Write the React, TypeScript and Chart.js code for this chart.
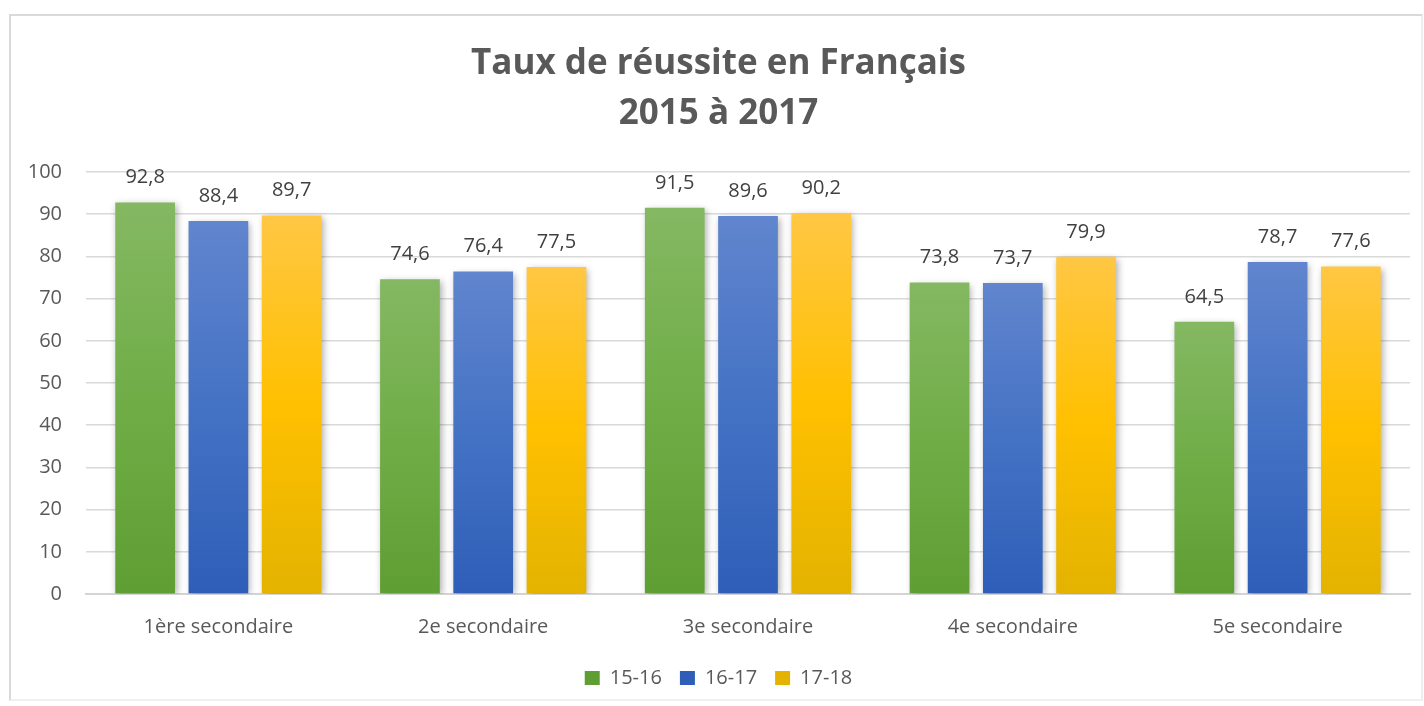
import React, { useEffect, useRef } from 'react';
import { Chart, registerables } from 'chart.js';

Chart.register(...registerables);

const categories = ['1ère secondaire', '2e secondaire', '3e secondaire', '4e secondaire', '5e secondaire'];
const seriesNames = ['15-16', '16-17', '17-18'];
const values1516 = [92.8, 74.6, 91.5, 73.8, 64.5];
const values1617 = [88.4, 76.4, 89.6, 73.7, 78.7];
const values1718 = [89.7, 77.5, 90.2, 79.9, 77.6];
const titleLines = ['Taux de réussite en Français', '2015 à 2017'];
const yMin = 0;
const yMax = 100;
const yStep = 10;

const FONT = '"Open Sans", "Noto Sans", sans-serif';
const greenStops = ['#84b862', '#70ad47', '#5f9e33'];
const blueStops = ['#6185ce', '#4472c4', '#2e5eb8'];
const yellowStops = ['#ffc744', '#ffc000', '#e3b300'];

function barGradient(stops: string[]) {
  return (c: any) => {
    const chart = c.chart;
    const area = chart.chartArea;
    if (!area || c.type !== 'data') return stops[1];
    const ys = chart.scales.y;
    const v = c.parsed && c.parsed.y != null ? c.parsed.y : c.raw;
    const top = ys.getPixelForValue(v);
    const bottom = ys.getPixelForValue(0);
    if (!isFinite(top) || !isFinite(bottom) || top === bottom) return stops[1];
    const g = chart.ctx.createLinearGradient(0, top, 0, bottom);
    stops.forEach((s, i) => g.addColorStop(i / (stops.length - 1), s));
    return g;
  };
}

const fmt = (v: number) => v.toFixed(1).replace('.', ',');

const shadowAndLabels = {
  id: 'shadowAndLabels',
  beforeDatasetsDraw(chart: any) {
    const ctx = chart.ctx;
    ctx.save();
    ctx.shadowColor = 'rgba(0,0,0,0.32)';
    ctx.shadowBlur = 7;
    ctx.shadowOffsetX = 2;
    ctx.shadowOffsetY = 2;
  },
  afterDatasetsDraw(chart: any) {
    const ctx = chart.ctx;
    ctx.restore();
    ctx.save();
    ctx.font = `20px ${FONT}`;
    ctx.fillStyle = '#404040';
    ctx.textAlign = 'center';
    ctx.textBaseline = 'middle';
    chart.data.datasets.forEach((ds: any, di: number) => {
      const meta = chart.getDatasetMeta(di);
      meta.data.forEach((bar: any, i: number) => {
        ctx.fillText(fmt(ds.data[i]), bar.x, bar.y - 25);
      });
    });
    ctx.restore();
  },
};

export default function App() {
  const ref = useRef<HTMLCanvasElement>(null);
  useEffect(() => {
    if (!ref.current) return;
    const chart = new Chart(ref.current, {
      type: 'bar',
      data: {
        labels: categories,
        datasets: [
          { label: seriesNames[0], data: values1516, backgroundColor: barGradient(greenStops), borderWidth: 0 },
          { label: seriesNames[1], data: values1617, backgroundColor: barGradient(blueStops), borderWidth: 0 },
          { label: seriesNames[2], data: values1718, backgroundColor: barGradient(yellowStops), borderWidth: 0 },
        ],
      },
      options: {
        animation: false,
        responsive: false,
        datasets: { bar: { categoryPercentage: 0.83, barPercentage: 0.815 } },
        layout: { padding: { left: 27, right: 14, top: 0, bottom: 8 } },
        plugins: {
          title: {
            display: true,
            text: titleLines,
            color: '#595959',
            font: { family: FONT, size: 35, weight: 'bold', lineHeight: 50 / 35 },
            padding: { top: 39, bottom: 33 },
          },
          legend: {
            position: 'bottom',
            labels: {
              color: '#595959',
              font: { family: FONT, size: 20 },
              boxWidth: 15,
              boxHeight: 14,
              padding: 18,
            },
          },
          tooltip: { enabled: false },
        },
        scales: {
          x: {
            grid: { display: false },
            border: { display: true, color: '#d4d4d4', width: 2 },
            ticks: { color: '#595959', font: { family: FONT, size: 20 }, padding: 13 },
            afterFit: (s: any) => { s.height = 56; },
          },
          y: {
            min: yMin,
            max: yMax,
            ticks: { stepSize: yStep, color: '#595959', font: { family: FONT, size: 20 }, padding: 24 },
            grid: { color: '#d9d9d9', lineWidth: 1.5, drawTicks: false },
            border: { display: false },
            afterFit: (s: any) => { s.width = 59; },
          },
        },
      },
      plugins: [shadowAndLabels],
    } as any);
    return () => chart.destroy();
  }, []);

  return (
    <div style={{ position: 'fixed', left: 0, top: 0, width: 1424, height: 706, background: '#fff' }}>
      <div
        style={{
          position: 'absolute',
          left: 9,
          top: 14,
          width: 1414,
          height: 687,
          boxSizing: 'border-box',
          borderLeft: '2px solid #d9d9d9',
          borderTop: '2px solid #d9d9d9',
          borderRight: '2px solid #eeeeee',
          borderBottom: '2px solid #f0f0f0',
        }}
      />
      <canvas ref={ref} width={1424} height={706} style={{ position: 'absolute', left: 0, top: 0, display: 'block' }} />
    </div>
  );
}
